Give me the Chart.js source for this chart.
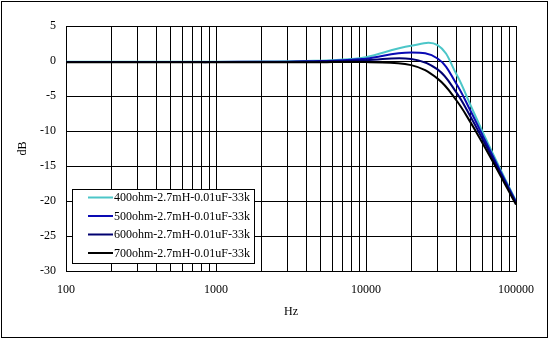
<!DOCTYPE html>
<html>
<head>
<meta charset="utf-8">
<script src="https://cdn.jsdelivr.net/npm/chart.js@4/dist/chart.umd.min.js"></script>
<style>
  html, body { margin: 0; padding: 0; background: #fff; }
  canvas { display: block; }
</style>
</head>
<body>
<canvas id="c" width="549" height="339"></canvas>
<script>
// Frequency points (Hz)
const freqs = [100, 200, 300, 400, 500, 600, 700, 800, 900,
               1000, 2000, 3000, 4000, 5000, 6000, 7000, 8000, 9000,
               10000, 20000, 30000, 40000, 50000, 60000, 70000, 80000, 90000,
               100000];

// Response in dB for each source resistance
const r400 = [-0.10, -0.10, -0.10, -0.10, -0.10, -0.10, -0.10, -0.10, -0.10,
              -0.10, -0.08, -0.05, 0.00, 0.05, 0.12, 0.21, 0.30, 0.41,
              0.53, 2.17, 2.26, -1.86, -6.41, -10.15, -13.21, -15.79, -18.02,
              -19.98];
const r500 = [-0.13, -0.13, -0.13, -0.13, -0.13, -0.13, -0.13, -0.13, -0.13,
              -0.13, -0.11, -0.09, -0.05, -0.01, 0.04, 0.10, 0.17, 0.25,
              0.33, 1.22, 0.36, -3.24, -7.22, -10.66, -13.56, -16.05, -18.22,
              -20.14];
const r600 = [-0.16, -0.16, -0.16, -0.16, -0.16, -0.16, -0.16, -0.16, -0.16,
              -0.15, -0.15, -0.13, -0.11, -0.08, -0.05, -0.02, 0.02, 0.06,
              0.10, 0.30, -1.20, -4.49, -8.04, -11.21, -13.95, -16.34, -18.44,
              -20.32];
const r700 = [-0.18, -0.18, -0.18, -0.18, -0.18, -0.18, -0.18, -0.18, -0.18,
              -0.18, -0.18, -0.18, -0.17, -0.17, -0.16, -0.15, -0.15, -0.15,
              -0.15, -0.59, -2.52, -5.61, -8.84, -11.78, -14.37, -16.66, -18.69,
              -20.52];

const seriesNames = ['400ohm-2.7mH-0.01uF-33k', '500ohm-2.7mH-0.01uF-33k',
                     '600ohm-2.7mH-0.01uF-33k', '700ohm-2.7mH-0.01uF-33k'];
const seriesColors = ['#4cc6c8', '#0a0ab4', '#000070', '#000000'];

// Axis tick labels
const xLabels = [100, 1000, 10000, 100000];
const yLabels = [5, 0, -5, -10, -15, -20, -25, -30];

const FONT = "'Liberation Serif', 'Times New Roman', serif";

const seriesValues = [r400, r500, r600, r700];
const datasets = seriesValues.map((vals, i) => ({
  label: seriesNames[i],
  data: freqs.map((f, k) => ({ x: f, y: vals[k] })),
  borderColor: seriesColors[i],
  backgroundColor: seriesColors[i],
  borderWidth: 2,
  pointRadius: 0,
  tension: 0.4,
  fill: false,
  order: seriesValues.length - 1 - i
}));

// White page with a thin frame around the whole chart
const framePlugin = {
  id: 'frame',
  beforeDraw(chart) {
    const ctx = chart.ctx;
    ctx.save();
    ctx.fillStyle = '#fff';
    ctx.fillRect(0, 0, chart.width, chart.height);
    ctx.restore();
  },
  afterDraw(chart) {
    const ctx = chart.ctx;
    ctx.save();
    ctx.strokeStyle = '#000';
    ctx.lineWidth = 1;
    ctx.strokeRect(1.5, 1.5, chart.width - 3, chart.height - 3);
    ctx.restore();
  }
};

// Boxed legend sitting inside the plot area, lower left
const boxLegend = {
  id: 'boxLegend',
  afterDatasetsDraw(chart) {
    const ctx = chart.ctx;
    const a = chart.chartArea;
    const x0 = a.left + 6, y0 = 189.5, w = 182, h = 74;
    ctx.save();
    ctx.fillStyle = '#fff';
    ctx.fillRect(x0, y0, w, h);
    ctx.strokeStyle = '#000';
    ctx.lineWidth = 1;
    ctx.strokeRect(x0 + 0.5, y0, w, h);
    ctx.font = '12px ' + FONT;
    ctx.textBaseline = 'middle';
    ctx.textAlign = 'left';
    chart.data.datasets.forEach((ds, i) => {
      const y = y0 + 8 + i * 18.5;
      ctx.strokeStyle = ds.borderColor;
      ctx.lineWidth = 2;
      ctx.beginPath();
      ctx.moveTo(x0 + 16, y);
      ctx.lineTo(x0 + 41, y);
      ctx.stroke();
      ctx.fillStyle = '#000';
      ctx.fillText(ds.label, x0 + 42, y + 0.5);
    });
    ctx.restore();
  }
};

new Chart(document.getElementById('c'), {
  type: 'line',
  data: { datasets },
  options: {
    responsive: false,
    animation: false,
    events: [],
    layout: { padding: { left: 0, top: 26, right: 33, bottom: 0 } },
    plugins: { legend: { display: false }, tooltip: { enabled: false } },
    scales: {
      x: {
        type: 'logarithmic',
        min: xLabels[0],
        max: xLabels[xLabels.length - 1],
        afterBuildTicks(scale) {
          // every 1..9 x 10^n gets a grid line
          const ticks = [];
          for (let d = 0; d < xLabels.length - 1; d++) {
            for (let m = 1; m <= 9; m++) ticks.push({ value: xLabels[d] * m });
          }
          ticks.push({ value: xLabels[xLabels.length - 1] });
          scale.ticks = ticks;
        },
        afterFit(scale) { scale.height = 68; },
        ticks: {
          autoSkip: false,
          maxRotation: 0,
          minRotation: 0,
          padding: 12,
          color: '#000',
          font: { family: FONT, size: 12 },
          callback: (v) => (xLabels.includes(v) ? String(v) : '')
        },
        grid: { color: '#000', lineWidth: 1, drawTicks: false },
        border: { display: true, color: '#000', width: 1 },
        title: {
          display: true,
          text: 'Hz',
          color: '#000',
          font: { family: FONT, size: 12 },
          padding: { top: 0, bottom: 20 }
        }
      },
      y: {
        type: 'linear',
        min: yLabels[yLabels.length - 1],
        max: yLabels[0],
        afterBuildTicks(scale) {
          scale.ticks = yLabels.map(v => ({ value: v }));
        },
        afterFit(scale) { scale.width = 66; },
        ticks: {
          padding: 10,
          color: '#000',
          font: { family: FONT, size: 12 },
          callback: (v) => String(v)
        },
        grid: { color: '#000', lineWidth: 1, drawTicks: false },
        border: { display: true, color: '#000', width: 1 },
        title: {
          display: true,
          text: 'dB',
          color: '#000',
          font: { family: FONT, size: 12 },
          padding: { top: 16, bottom: 0 }
        }
      }
    }
  },
  plugins: [framePlugin, boxLegend]
});
</script>
</body>
</html>
